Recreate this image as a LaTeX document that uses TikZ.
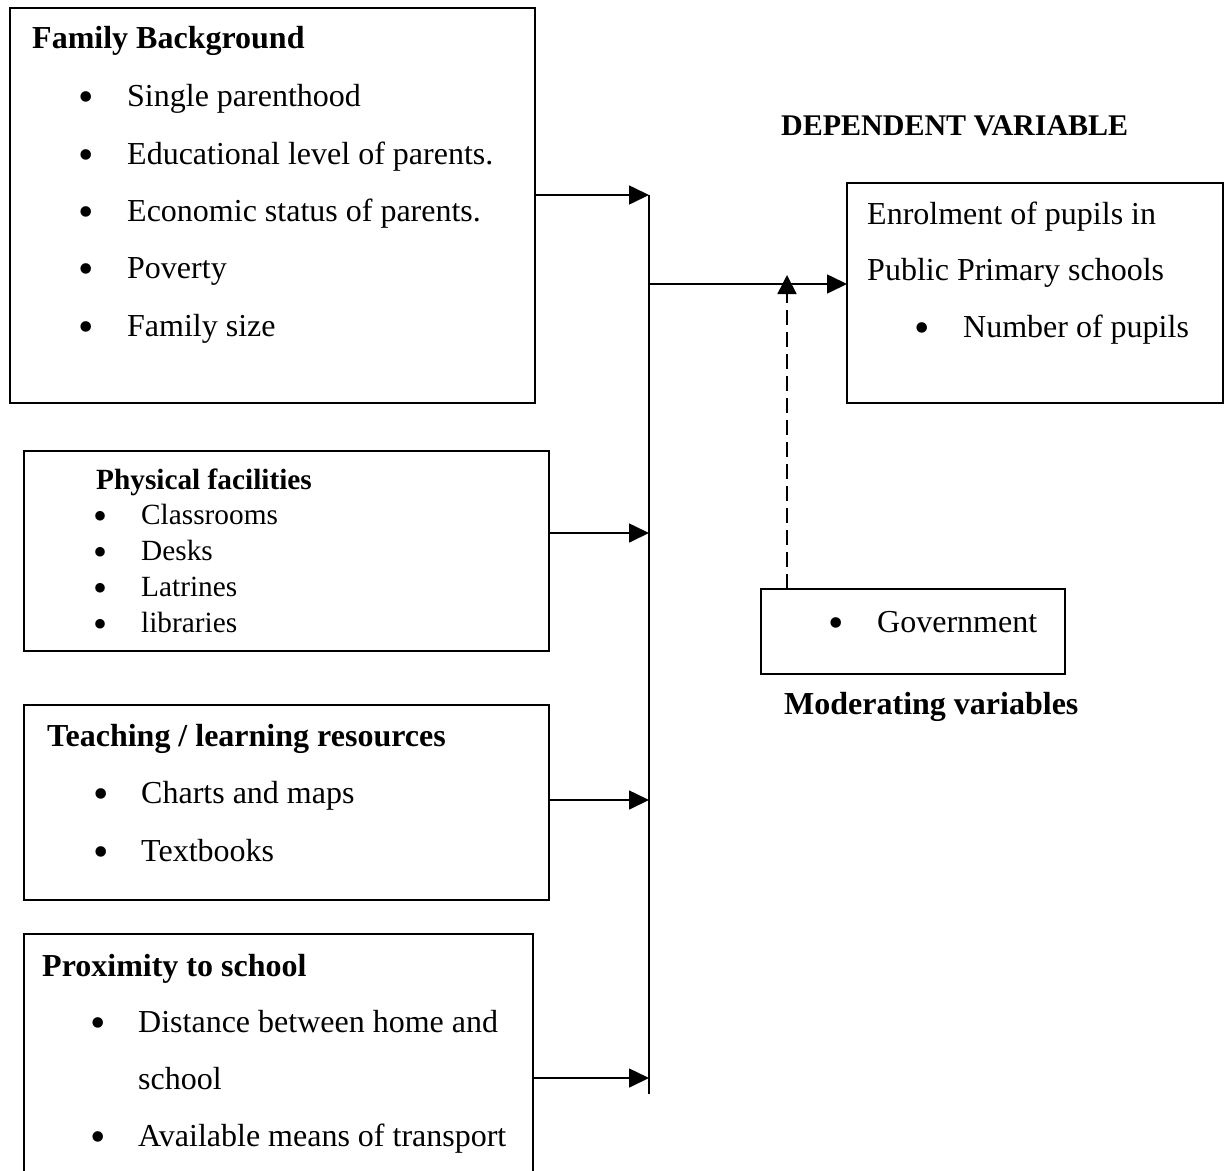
\documentclass[tikz,border=0pt]{standalone}
\usepackage{fontspec}
\setmainfont{Liberation Serif}
\usetikzlibrary{arrows.meta}
\begin{document}
\begin{tikzpicture}[x=1pt,y=-1pt,
  box/.style={draw, line width=1.6pt, inner sep=0pt, outer sep=0pt, anchor=north west},
  txt/.style={anchor=base west, inner sep=0pt, font=\fontsize{32}{38}\selectfont},
  btxt/.style={anchor=base west, inner sep=0pt, font=\fontsize{32}{38}\selectfont\bfseries},
  stxt/.style={anchor=base west, inner sep=0pt, font=\fontsize{29.3}{35}\selectfont},
  sbtxt/.style={anchor=base west, inner sep=0pt, font=\fontsize{29.3}{35}\selectfont\bfseries},
  bul/.style={anchor=center, inner sep=0pt, font=\fontsize{44}{44}\selectfont},
  sbul/.style={anchor=center, inner sep=0pt, font=\fontsize{40}{40}\selectfont},
  wire/.style={line width=1.6pt},
  conn/.style={line width=1.6pt, -{Triangle[length=20pt,width=19pt]}},
  dconn/.style={line width=1.6pt, dash pattern=on 15pt off 7pt, -{Triangle[length=19pt,width=19pt]}},
]
\useasboundingbox (0,0) rectangle (1230,1170);
\clip (0,0) rectangle (1230,1170);

% boxes
\node[box, minimum width=525pt, minimum height=395pt] (fam) at (10,8) {};
\node[box, minimum width=525pt, minimum height=200pt] (phys) at (24,451) {};
\node[box, minimum width=525pt, minimum height=195pt] (teach) at (24,705) {};
\node[box, minimum width=509pt, minimum height=260pt] (prox) at (24,934) {};
\node[box, minimum width=376pt, minimum height=220pt] (enr) at (847,183) {};
\node[box, minimum width=304pt, minimum height=85pt] (gov) at (761,589) {};

% Family background
\node[btxt] (famt) at (32,48) {Family Background};
\node[bul] (fb1) at (86,102) {•};
\node[txt] (f1) at (127,106) {Single parenthood};
\node[bul] (fb2) at (86,160) {•};
\node[txt] (f2) at (127,164) {Educational level of parents.};
\node[bul] (fb3) at (86,217) {•};
\node[txt] (f3) at (127,221) {Economic status of parents.};
\node[bul] (fb4) at (86,274) {•};
\node[txt] (f4) at (127,278) {Poverty};
\node[bul] (fb5) at (86,332) {•};
\node[txt] (f5) at (127,336) {Family size};

% Physical facilities
\node[sbtxt] (physt) at (96,489) {Physical facilities};
\node[sbul] (pb1) at (101,520) {•};
\node[stxt] (p1) at (141,524) {Classrooms};
\node[sbul] (pb2) at (101,556) {•};
\node[stxt] (p2) at (141,560) {Desks};
\node[sbul] (pb3) at (101,592) {•};
\node[stxt] (p3) at (141,596) {Latrines};
\node[sbul] (pb4) at (101,628) {•};
\node[stxt] (p4) at (141,632) {libraries};

% Teaching / learning resources
\node[btxt] (teacht) at (47,746) {Teaching / learning resources};
\node[bul] (tb1) at (101,799) {•};
\node[txt] (t1) at (141,803) {Charts and maps};
\node[bul] (tb2) at (101,857) {•};
\node[txt] (t2) at (141,861) {Textbooks};

% Proximity to school
\node[btxt] (proxt) at (42,976) {Proximity to school};
\node[bul] (xb1) at (98,1028) {•};
\node[txt] (x1) at (138,1032) {Distance between home and};
\node[txt] (x1b) at (138,1089) {school};
\node[bul] (xb2) at (98,1142) {•};
\node[txt] (x2) at (138,1146) {Available means of transport};

% Dependent variable
\node[btxt, font=\fontsize{30}{36}\selectfont\bfseries] (dept) at (781,135) {DEPENDENT VARIABLE};
\node[txt] (e1) at (867,224) {Enrolment of pupils in};
\node[txt] (e2) at (867,280) {Public Primary schools};
\node[bul] (eb1) at (922,333) {•};
\node[txt] (e3) at (963,337) {Number of pupils};

% Moderating variable
\node[bul] (gb1) at (836,628) {•};
\node[txt] (g1) at (877,632) {Government};
\node[btxt] (modt) at (784,714) {Moderating variables};

% connectors
\coordinate (jtop) at (649,195);
\coordinate (jbot) at (649,1094);
\coordinate (j2) at (649,533);
\coordinate (j3) at (649,800);
\coordinate (j4) at (649,1078);
\coordinate (jm) at (649,284);
\coordinate (dtip) at (787,275);

\draw[wire] (jtop) -- (jbot);
\draw[conn] (fam.east |- jtop) -- (jtop);
\draw[conn] (phys.east |- j2) -- (j2);
\draw[conn] (teach.east |- j3) -- (j3);
\draw[conn] (prox.east |- j4) -- (j4);
\draw[conn] (jm) -- (enr.west |- jm);
\draw[dconn] (dtip |- gov.north) -- (dtip);
\end{tikzpicture}
\end{document}
